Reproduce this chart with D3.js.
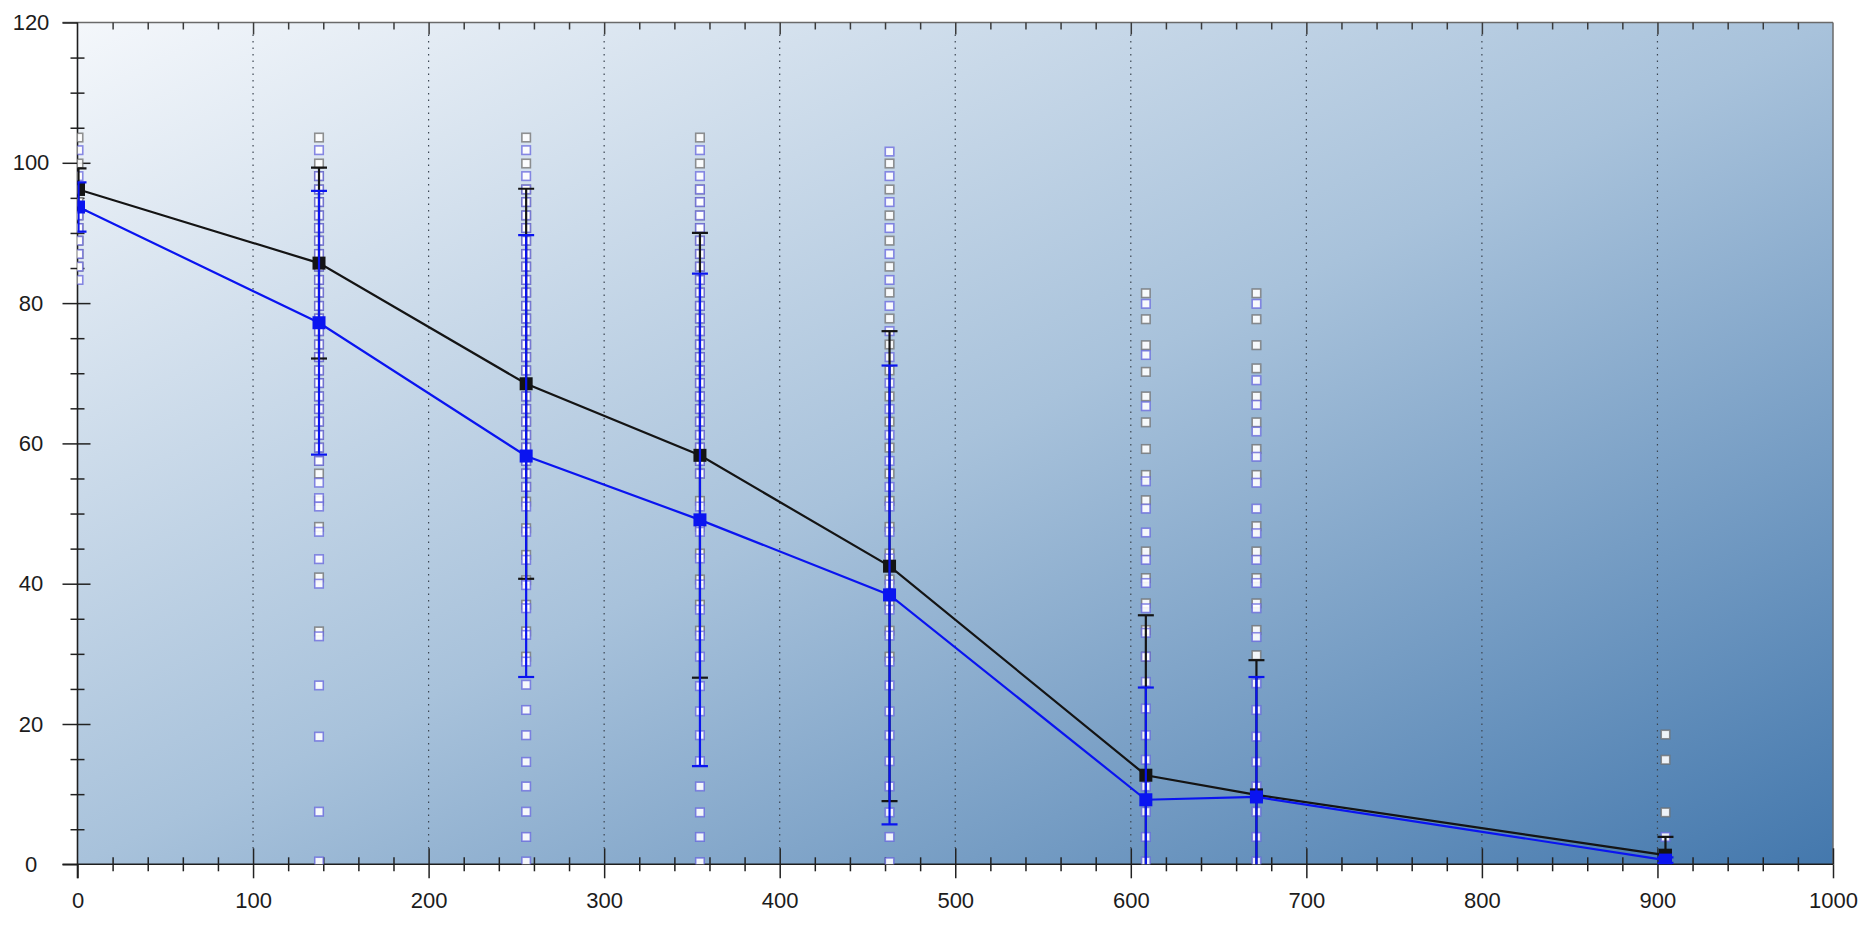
<!DOCTYPE html>
<html>
<head>
<meta charset="utf-8">
<script src="https://cdn.jsdelivr.net/npm/d3@7"></script>
<style>
  html, body { margin: 0; padding: 0; background: #fff; }
  svg { display: block; font-family: "Liberation Sans", Arial, sans-serif; }
</style>
</head>
<body>
<div id="chart"></div>
<script>
// time points (x) and the two series (means + sd)
const times = [0, 137, 255, 354, 462, 608, 671, 904];
const blackMean = [96.2, 85.7, 68.5, 58.3, 42.5, 12.7, 9.9, 1.3];
const blackSd = [3.0, 13.6, 27.8, 31.7, 33.5, 22.8, 19.2, 2.6];
const blueMean = [93.7, 77.2, 58.2, 49.1, 38.4, 9.2, 9.6, 0.6];
const blueSd = [3.5, 18.8, 31.5, 35.1, 32.7, 16.0, 17.1, 0.4];

// raw observations per time point (grey = black series, blue = blue series)
const greyRaw = [
  [103.6, 99.9, 96.2, 94.4, 92.5, 90.7, 88.9, 87.0, 85.2],
  [103.6, 99.9, 98.1, 96.2, 94.4, 92.5, 90.7, 88.9, 87.0, 85.2, 83.3, 81.5, 79.6, 77.8, 76.0, 74.1, 72.3, 70.4, 68.6, 66.7, 64.9, 63.1, 61.2, 59.4, 57.5, 55.7, 51.8, 48.1, 40.9, 33.2],
  [103.6, 99.9, 96.2, 94.4, 92.5, 90.7, 88.9, 87.0, 85.2, 83.3, 81.5, 79.6, 77.8, 76.0, 74.1, 72.3, 70.4, 68.6, 66.7, 64.9, 63.1, 61.2, 59.4, 57.5, 55.7, 53.8, 51.7, 47.9, 44.1, 40.5, 37.0, 33.2, 29.6],
  [103.6, 99.9, 96.2, 94.4, 92.5, 90.7, 88.9, 87.0, 85.2, 83.3, 81.5, 79.6, 77.8, 76.0, 74.1, 72.3, 70.4, 68.6, 66.7, 64.9, 63.1, 61.2, 59.4, 57.5, 55.7, 51.8, 48.1, 44.3, 40.6, 37.0, 33.3],
  [99.9, 96.2, 92.5, 88.9, 85.2, 81.5, 77.8, 74.1, 70.4, 66.7, 63.1, 59.4, 55.7, 51.8, 48.1, 44.3, 40.6, 37.0, 33.3, 29.6],
  [81.4, 77.7, 74.0, 70.2, 66.7, 63.0, 59.2, 55.5, 51.9, 44.6, 40.8, 37.2, 33.4, 29.6],
  [81.4, 77.7, 74.0, 70.7, 66.7, 63.0, 59.2, 55.5, 48.2, 44.6, 40.8, 37.2, 33.4, 29.8],
  [18.5, 14.9, 7.4]
];
const blueRaw = [
  [101.8, 98.1, 96.2, 92.5, 90.7, 88.9, 87.0, 85.2, 83.3],
  [101.8, 98.1, 96.2, 94.4, 92.5, 90.7, 88.9, 87.0, 85.2, 83.3, 81.5, 79.6, 77.8, 76.0, 74.1, 72.3, 70.4, 68.6, 66.7, 64.9, 63.1, 61.2, 59.4, 57.5, 54.4, 52.2, 51.0, 47.4, 43.5, 40.0, 32.5, 25.5, 18.2, 7.5, 0.4],
  [101.8, 98.1, 96.2, 94.4, 92.5, 90.7, 88.9, 87.0, 85.2, 83.3, 81.5, 79.6, 77.8, 76.0, 74.1, 72.3, 70.4, 68.6, 66.7, 64.9, 63.1, 61.2, 59.4, 57.5, 55.7, 53.8, 51.0, 47.4, 43.4, 39.8, 36.5, 32.7, 28.9, 25.6, 22.0, 18.4, 14.6, 11.1, 7.5, 3.9, 0.4],
  [101.8, 98.1, 96.2, 94.4, 92.5, 90.7, 88.9, 87.0, 85.2, 83.3, 81.5, 79.6, 77.8, 76.0, 74.1, 72.3, 70.4, 68.6, 66.7, 64.9, 63.1, 61.2, 59.4, 57.5, 55.7, 51.0, 47.4, 43.6, 39.9, 36.3, 32.6, 29.6, 25.4, 21.8, 18.4, 14.7, 11.1, 7.4, 3.9, 0.3],
  [101.6, 98.1, 94.4, 90.7, 87.0, 83.3, 79.6, 76.0, 72.3, 68.6, 64.9, 61.2, 57.5, 53.8, 51.0, 47.4, 43.6, 39.9, 36.3, 32.6, 28.9, 25.5, 21.8, 18.4, 14.7, 11.1, 7.4, 3.9, 0.3],
  [79.9, 72.6, 65.3, 54.6, 50.7, 47.3, 43.4, 40.1, 36.5, 33.0, 29.6, 26.0, 22.2, 18.4, 14.9, 11.1, 7.5, 3.9, 0.4],
  [79.9, 69.0, 65.5, 61.7, 58.1, 54.4, 50.7, 47.2, 43.4, 40.1, 36.5, 32.4, 25.8, 22.0, 18.2, 14.6, 11.1, 7.5, 3.9, 0.4],
  [3.9]
];

const xMajor = [0, 100, 200, 300, 400, 500, 600, 700, 800, 900, 1000];
const yMajor = [0, 20, 40, 60, 80, 100, 120];

const W = 1865, H = 935;
const pL = 77.5, pR = 1833, pT = 22.5, pB = 864.3;

const x = d3.scaleLinear().domain([0, 1000]).range([pL, pR]);
const y = d3.scaleLinear().domain([0, 120]).range([pB, pT]);

const xMinor = d3.range(0, 1001, 20).filter(v => v % 100 !== 0);
const yMinor = d3.range(0, 121, 5).filter(v => v % 20 !== 0);

const svg = d3.select('#chart').append('svg')
  .attr('width', W)
  .attr('height', H);

const defs = svg.append('defs');
const grad = defs.append('linearGradient')
  .attr('id', 'bg')
  .attr('x1', 0).attr('y1', 0).attr('x2', 1).attr('y2', 1);
grad.append('stop').attr('offset', '0%').attr('stop-color', '#f4f7fb');
grad.append('stop').attr('offset', '50%').attr('stop-color', '#a8c2db');
grad.append('stop').attr('offset', '100%').attr('stop-color', '#4478ad');

defs.append('clipPath').attr('id', 'plot')
  .append('rect')
  .attr('x', pL).attr('y', pT)
  .attr('width', pR - pL).attr('height', pB - pT);

svg.append('rect')
  .attr('x', pL).attr('y', pT)
  .attr('width', pR - pL).attr('height', pB - pT)
  .attr('fill', 'url(#bg)');

// dotted grid at major x ticks
svg.append('g')
  .selectAll('line')
  .data(xMajor.slice(1, -1))
  .join('line')
  .attr('x1', d => x(d)).attr('x2', d => x(d))
  .attr('y1', pT + 12).attr('y2', pB - 16)
  .attr('stroke', '#3c4652')
  .attr('stroke-width', 1.2)
  .attr('stroke-dasharray', '1.5,5');

// frame top / right
svg.append('line')
  .attr('x1', pL - 15).attr('x2', pR)
  .attr('y1', pT).attr('y2', pT)
  .attr('stroke', '#6a6a6a').attr('stroke-width', 1.5);
svg.append('line')
  .attr('x1', pR).attr('x2', pR)
  .attr('y1', pT).attr('y2', pB)
  .attr('stroke', '#6a6a6a').attr('stroke-width', 1.5);

function styleAxis(g, color) {
  g.select('.domain').remove();
  g.selectAll('line').attr('stroke', color).attr('stroke-width', 1.5);
}

// top ticks pointing inward
svg.append('g')
  .attr('transform', `translate(0,${pT})`)
  .call(d3.axisBottom(x).tickValues(xMinor).tickSize(7).tickFormat(''))
  .call(g => styleAxis(g, '#3a3a3a'));
svg.append('g')
  .attr('transform', `translate(0,${pT})`)
  .call(d3.axisBottom(x).tickValues(xMajor.slice(1, -1)).tickSize(12).tickFormat(''))
  .call(g => styleAxis(g, '#3a3a3a'));

// bottom axis: ticks crossing the line
svg.append('g')
  .attr('transform', `translate(0,${pB})`)
  .call(d3.axisTop(x).tickValues(xMinor).tickSize(7).tickFormat(''))
  .call(g => styleAxis(g, '#222'));
svg.append('g')
  .attr('transform', `translate(0,${pB})`)
  .call(d3.axisBottom(x).tickValues(xMinor).tickSize(7).tickFormat(''))
  .call(g => styleAxis(g, '#222'));
svg.append('g')
  .attr('transform', `translate(0,${pB})`)
  .call(d3.axisTop(x).tickValues(xMajor.slice(1)).tickSize(16).tickFormat(''))
  .call(g => styleAxis(g, '#222'));
const xAxis = svg.append('g')
  .attr('transform', `translate(0,${pB})`)
  .call(d3.axisBottom(x).tickValues(xMajor).tickSize(14).tickFormat(d3.format('d')))
  .call(g => styleAxis(g, '#222'));
xAxis.selectAll('text')
  .attr('y', 44).attr('dy', 0)
  .attr('fill', '#1c1c1c')
  .style('font-size', '22px')
  .style('font-family', '"Liberation Sans", Arial, sans-serif');

// left axis
svg.append('g')
  .attr('transform', `translate(${pL},0)`)
  .call(d3.axisLeft(y).tickValues(yMinor).tickSize(7).tickFormat(''))
  .call(g => styleAxis(g, '#222'));
svg.append('g')
  .attr('transform', `translate(${pL},0)`)
  .call(d3.axisRight(y).tickValues(yMinor).tickSize(7).tickFormat(''))
  .call(g => styleAxis(g, '#222'));
svg.append('g')
  .attr('transform', `translate(${pL},0)`)
  .call(d3.axisRight(y).tickValues(yMajor.slice(1, -1)).tickSize(13).tickFormat(''))
  .call(g => styleAxis(g, '#222'));
const yAxis = svg.append('g')
  .attr('transform', `translate(${pL},0)`)
  .call(d3.axisLeft(y).tickValues(yMajor).tickSize(15).tickFormat(d3.format('d')))
  .call(g => styleAxis(g, '#222'));
yAxis.selectAll('text')
  .attr('x', 31 - pL)
  .attr('text-anchor', 'middle')
  .attr('fill', '#1c1c1c')
  .style('font-size', '22px')
  .style('font-family', '"Liberation Sans", Arial, sans-serif');

// axis lines
svg.append('line')
  .attr('x1', pL).attr('x2', pL)
  .attr('y1', pT).attr('y2', pB + 14)
  .attr('stroke', '#1e1e1e').attr('stroke-width', 1.6);
svg.append('line')
  .attr('x1', pL - 15).attr('x2', pR)
  .attr('y1', pB).attr('y2', pB)
  .attr('stroke', '#1e1e1e').attr('stroke-width', 1.6);

const plot = svg.append('g').attr('clip-path', 'url(#plot)');

// raw observations
const side = 8.5;
function rawPoints(data, stroke) {
  const pts = data.flatMap((vals, i) => vals.map(v => ({ t: times[i], v })));
  plot.append('g')
    .selectAll('rect')
    .data(pts)
    .join('rect')
    .attr('x', d => x(d.t) + 1 - side / 2)
    .attr('y', d => y(d.v) - side / 2)
    .attr('width', side).attr('height', side)
    .attr('fill', '#ffffff')
    .attr('fill-opacity', 0.9)
    .attr('stroke', stroke)
    .attr('stroke-opacity', 0.75)
    .attr('stroke-width', 1.6);
}
rawPoints(greyRaw, '#6e6e6e');
rawPoints(blueRaw, '#6464dc');

const series = [
  { mean: blackMean, sd: blackSd, color: '#141414', width: 2.2 },
  { mean: blueMean, sd: blueSd, color: '#0a14f0', width: 2.2 }
];

series.forEach(s => {
  const rows = times.map((t, i) => ({ t, m: s.mean[i], sd: s.sd[i] }));

  plot.append('g')
    .selectAll('line')
    .data(rows)
    .join('line')
    .attr('x1', d => x(d.t) + 1).attr('x2', d => x(d.t) + 1)
    .attr('y1', d => y(d.m + d.sd)).attr('y2', d => y(d.m - d.sd))
    .attr('stroke', s.color).attr('stroke-width', s.width);

  const caps = rows.flatMap(d => [d.m + d.sd, d.m - d.sd].map(v => ({ t: d.t, v })));
  plot.append('g')
    .selectAll('line')
    .data(caps)
    .join('line')
    .attr('x1', d => x(d.t) + 1 - 8).attr('x2', d => x(d.t) + 1 + 8)
    .attr('y1', d => y(d.v)).attr('y2', d => y(d.v))
    .attr('stroke', s.color).attr('stroke-width', s.width);

  const line = d3.line()
    .x(d => x(d.t) + 1)
    .y(d => y(d.m));
  plot.append('path')
    .datum(rows)
    .attr('fill', 'none')
    .attr('stroke', s.color)
    .attr('stroke-width', s.width)
    .attr('d', line);

  plot.append('g')
    .selectAll('rect')
    .data(rows)
    .join('rect')
    .attr('x', d => x(d.t) + 1 - 6.5)
    .attr('y', d => y(d.m) - 6.5)
    .attr('width', 13).attr('height', 13)
    .attr('fill', s.color);
});
</script>
</body>
</html>
